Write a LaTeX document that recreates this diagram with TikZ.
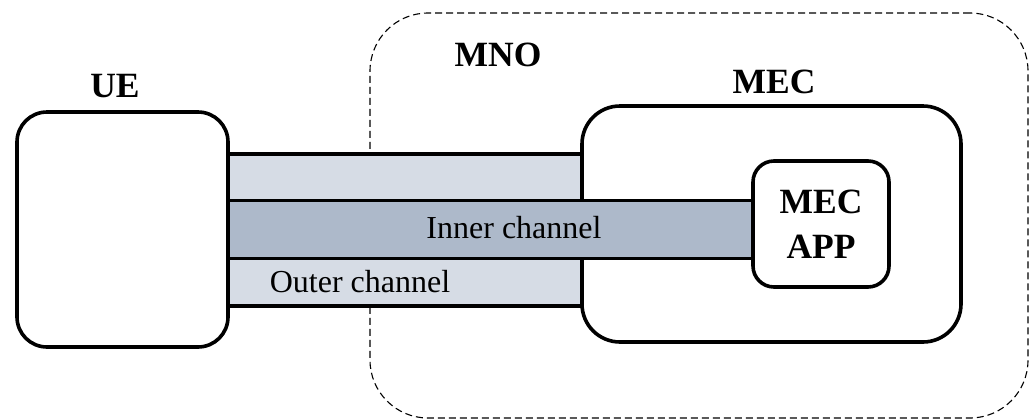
\documentclass[tikz,border=0pt]{standalone}
\usepackage{fontspec}
\setmainfont{Liberation Serif}
\begin{document}
\begin{tikzpicture}[x=1pt,y=-1pt,
  box/.style={draw=black,line width=3.6pt,fill=white,rectangle,inner sep=0pt,outer sep=0pt},
  chanouter/.style={fill=outerc,draw=none,rectangle,inner sep=0pt,outer sep=0pt},
  chaninner/.style={fill=innerc,draw=none,rectangle,inner sep=0pt,outer sep=0pt},
  chanline/.style={line width=3.4pt,draw=black},
  boldlbl/.style={font=\fontsize{35.5}{45}\selectfont\bfseries,inner sep=0pt},
  plainlbl/.style={font=\fontsize{32}{40}\selectfont,inner sep=0pt}]
\definecolor{outerc}{HTML}{D6DCE5}
\definecolor{innerc}{HTML}{ADB9CA}
\useasboundingbox (0,0) rectangle (1036,418);
% MNO dashed region
\node[draw=black,line width=1.1pt,dash pattern=on 7pt off 4pt,rectangle,rounded corners=58pt,
  minimum width=658pt,minimum height=405pt,inner sep=0pt] (mno) at (699,215.5) {};
% outer channel
\node[chanouter,minimum width=353pt,minimum height=152pt] (outerch) at (405.5,230) {};
\draw[chanline] (outerch.north west) -- (outerch.north east);
\draw[chanline] (outerch.south west) -- (outerch.south east);
% MEC box
\node[box,rounded corners=38pt,minimum width=379pt,minimum height=236pt] (mec) at (771.5,224) {};
% inner channel
\node[chaninner,minimum width=524pt,minimum height=58pt] (innerch) at (491,229.5) {};
\draw[chanline] (innerch.north west) -- (innerch.north east);
\draw[chanline] (innerch.south west) -- (innerch.south east);
% MEC APP
\node[box,rounded corners=21pt,minimum width=136pt,minimum height=126pt] (app) at (821,224) {};
% UE box
\node[box,rounded corners=30pt,minimum width=211pt,minimum height=235pt] (ue) at (122.5,229.5) {};
% labels
\node[boldlbl] (uelbl) at (115,86) {UE};
\node[boldlbl] (mnolbl) at (498,55) {MNO};
\node[boldlbl] (meclbl) at (774,82) {MEC};
\node[boldlbl,align=center] (applbl) at (app.center) {MEC\\APP};
\node[plainlbl] (innerlbl) at (514,228) {Inner channel};
\node[plainlbl] (outerlbl) at (360,282) {Outer channel};
\end{tikzpicture}
\end{document}
